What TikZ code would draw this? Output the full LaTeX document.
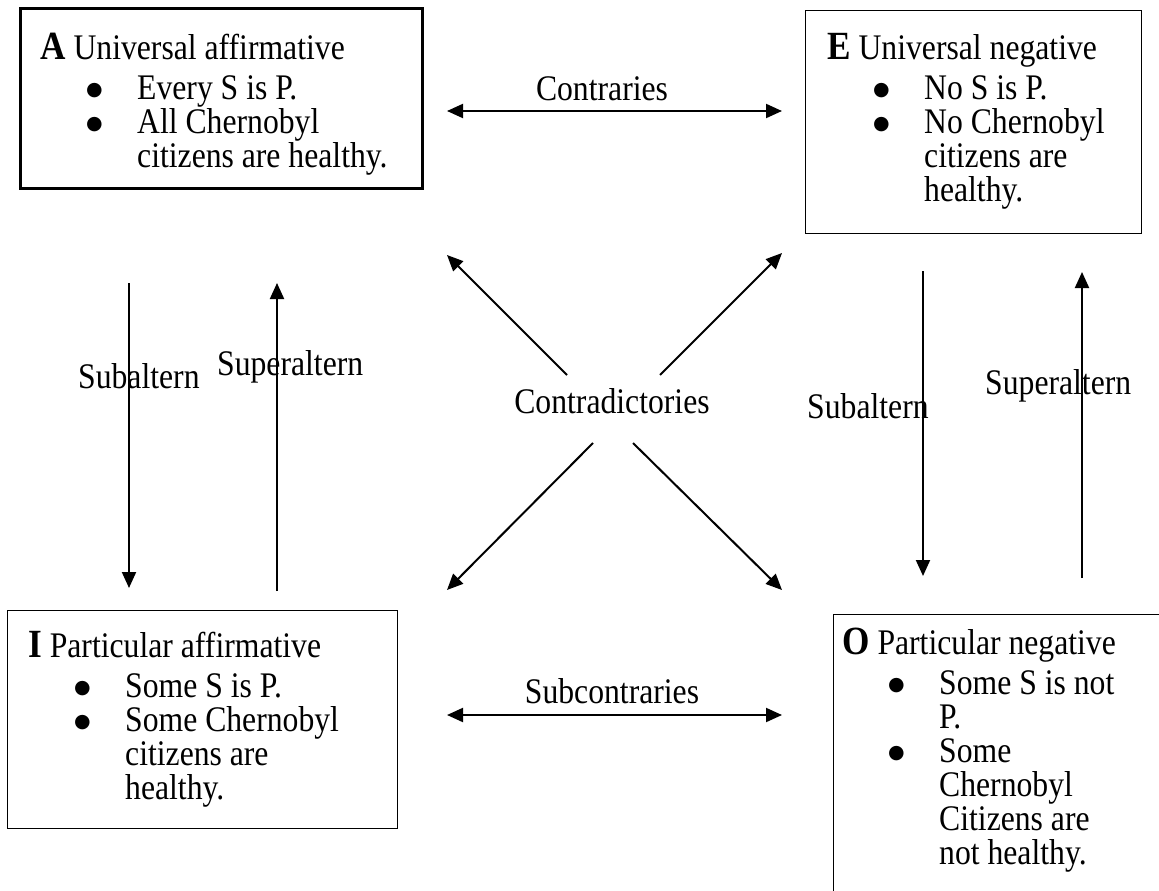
\documentclass[tikz,border=0pt]{standalone}
\usepackage{fontspec}
\setmainfont{Liberation Serif}[FakeStretch=0.88]
\newfontfamily\dotfont{DejaVu Sans}
\usetikzlibrary{positioning,arrows.meta}
\newcommand{\itm}{\hspace*{46pt}\makebox[51pt][l]{\raisebox{4pt}{\dotfont\fontsize{19}{20}\selectfont ●}}}
\newcommand{\cnt}{\hspace*{97pt}}
\newcommand{\hd}[1]{{\fontsize{40}{34}\selectfont\bfseries #1}}

\begin{document}
\begin{tikzpicture}[x=1pt,y=-1pt,font=\fontsize{36}{34}\selectfont,>={Triangle[length=16pt,width=14pt]}]
            \tikzstyle{box}=[draw,line width=1.2pt,inner sep=0,anchor=north west]
            \tikzstyle{heavy box}=[box,line width=2.6pt]
            \tikzstyle{txt}=[align=left,inner sep=0,anchor=north west]
            \tikzstyle{lbl}=[inner sep=0,anchor=base west]
            \tikzstyle{arr}=[line width=2pt]
            \useasboundingbox (0,0) rectangle (1159,891);
            \clip (0,0) rectangle (1159,891);
            \node[heavy box,minimum width=402pt,minimum height=180pt] (A) at (19,7) {};
            \node[box,minimum width=336pt,minimum height=223pt] (E) at (805,10) {};
            \node[box,minimum width=390pt,minimum height=218pt] (I) at (7,610) {};
            \node[box,minimum width=342pt,minimum height=291pt] (O) at (833,614) {};
            \node[txt,below right=26pt and 21pt of A.north west] (At) {\hd{A} Universal affirmative\\[6pt]
              \itm Every S is P.\\ \itm All Chernobyl\\ \cnt citizens are healthy.};
            \node[txt,below right=23pt and 22pt of E.north west] (Et) {\hd{E} Universal negative\\[6pt]
              \itm No S is P.\\ \itm No Chernobyl\\ \cnt citizens are\\ \cnt healthy.};
            \node[txt,below right=21pt and 21pt of I.north west] (It) {\hd{I} Particular affirmative\\[6pt]
              \itm Some S is P.\\ \itm Some Chernobyl\\ \cnt citizens are\\ \cnt healthy.};
            \node[txt,below right=14pt and 9pt of O.north west] (Ot) {\hd{O} Particular negative\\[6pt]
              \itm Some S is not\\ \cnt P.\\ \itm Some\\ \cnt Chernobyl\\ \cnt Citizens are\\ \cnt not healthy.};
            \node[inner sep=0,anchor=base] (contr) at (602,100) {Contraries};
            \node[inner sep=0,anchor=base] (subc) at (612,703) {Subcontraries};
            \node[inner sep=0,anchor=base] (cdict) at (612,413) {Contradictories};
            \node[lbl] (subL) at (78,388) {Subaltern};
            \node[lbl] (supL) at (217,375) {Superaltern};
            \node[lbl] (subR) at (807,418) {Subaltern};
            \node[lbl] (supR) at (985,394) {Superaltern};
            \coordinate (ae) at (447,111); \coordinate (ea) at (782,111);
            \coordinate (io) at (447,715); \coordinate (oi) at (782,715);
            \coordinate (c1) at (567,375); \coordinate (ul) at (447,255);
            \coordinate (c2) at (660,375); \coordinate (ur) at (782,253);
            \coordinate (c3) at (593,443); \coordinate (ll) at (447,590);
            \coordinate (c4) at (633,443); \coordinate (lr) at (782,590);
            \coordinate (a1) at (129,283); \coordinate (i1) at (129,588);
            \coordinate (i2) at (277,591); \coordinate (a2) at (277,283);
            \coordinate (e1) at (923,271); \coordinate (o1) at (923,576);
            \coordinate (o2) at (1082,578); \coordinate (e2) at (1082,272);
            \draw[arr,<->] (ae) -- (ea);
            \draw[arr,<->] (io) -- (oi);
            \draw[arr,->] (c1) -- (ul);
            \draw[arr,->] (c2) -- (ur);
            \draw[arr,->] (c3) -- (ll);
            \draw[arr,->] (c4) -- (lr);
            \draw[arr,->] (a1) -- (i1);
            \draw[arr,->] (i2) -- (a2);
            \draw[arr,->] (e1) -- (o1);
            \draw[arr,->] (o2) -- (e2);
          \end{tikzpicture}
\end{document}
